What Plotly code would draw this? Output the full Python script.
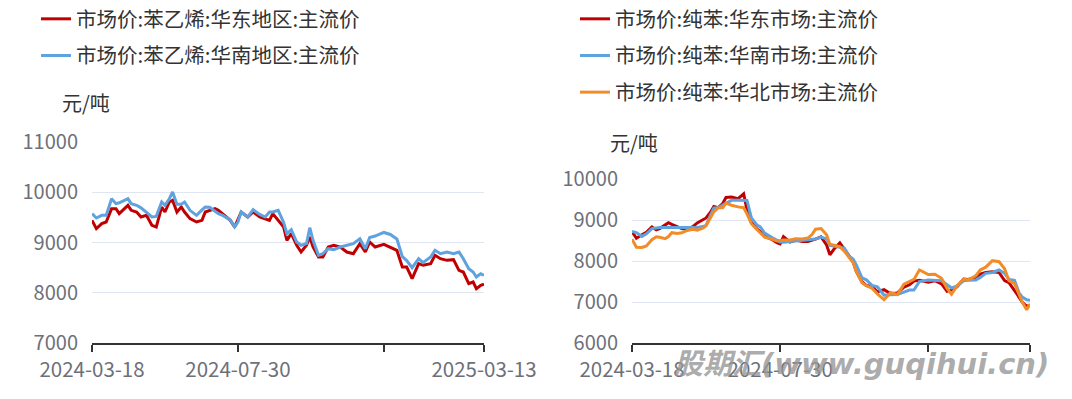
import plotly.graph_objects as go

# ---------------- Data ----------------
dates = [
    "2024-03-18", "2024-03-22", "2024-03-27", "2024-03-31", "2024-04-05", "2024-04-09", "2024-04-12", "2024-04-17", "2024-04-20", "2024-04-23",
    "2024-04-28", "2024-05-02", "2024-05-07", "2024-05-12", "2024-05-16", "2024-05-21", "2024-05-24", "2024-05-28", "2024-05-31", "2024-06-04",
    "2024-06-08", "2024-06-11", "2024-06-16", "2024-06-22", "2024-06-27", "2024-06-30", "2024-07-04", "2024-07-09", "2024-07-12", "2024-07-16",
    "2024-07-23", "2024-07-27", "2024-07-30", "2024-08-02", "2024-08-08", "2024-08-13", "2024-08-19", "2024-08-24", "2024-08-28", "2024-08-31",
    "2024-09-05", "2024-09-10", "2024-09-13", "2024-09-17", "2024-09-22", "2024-09-26", "2024-10-01", "2024-10-04", "2024-10-07", "2024-10-12",
    "2024-10-16", "2024-10-21", "2024-10-26", "2024-11-01", "2024-11-07", "2024-11-13", "2024-11-19", "2024-11-24", "2024-11-28", "2024-12-03",
    "2024-12-11", "2024-12-17", "2024-12-23", "2024-12-28", "2025-01-01", "2025-01-06", "2025-01-12", "2025-01-16", "2025-01-23", "2025-01-27",
    "2025-02-01", "2025-02-07", "2025-02-13", "2025-02-18", "2025-02-22", "2025-02-27", "2025-03-03", "2025-03-06", "2025-03-10", "2025-03-13",
]

# 苯乙烯 (styrene)
styrene_east = [
    9441, 9275, 9375, 9408, 9673, 9673, 9574, 9673, 9740, 9640,
    9607, 9507, 9540, 9342, 9308, 9706, 9607, 9806, 9839, 9607,
    9706, 9607, 9474, 9408, 9441, 9607, 9640, 9673, 9640, 9574,
    9441, 9308, 9441, 9607, 9507, 9607, 9507, 9474, 9441, 9574,
    9441, 9308, 9043, 9176, 8944, 8811, 8944, 9110, 8910, 8712,
    8712, 8910, 8944, 8910, 8811, 8778, 8977, 8811, 9010, 8910,
    8963, 8910, 8844, 8512, 8512, 8280, 8579, 8546, 8579, 8745,
    8678, 8645, 8658, 8446, 8413, 8181, 8214, 8081, 8148, 8170,
]
styrene_south = [
    9574, 9488, 9540, 9540, 9872, 9773, 9790, 9840, 9872, 9773,
    9740, 9690, 9600, 9507, 9520, 9806, 9740, 9870, 10005, 9760,
    9760, 9806, 9640, 9540, 9650, 9706, 9700, 9620, 9574, 9540,
    9450, 9308, 9408, 9607, 9507, 9653, 9560, 9507, 9607, 9607,
    9640, 9400, 9176, 9255, 9010, 8944, 8980, 9295, 9043, 8745,
    8778, 8877, 8857, 8910, 8940, 8977, 9076, 8877, 9100, 9129,
    9200, 9160, 9070, 8720, 8640, 8500, 8678, 8600, 8712, 8844,
    8778, 8811, 8778, 8811, 8678, 8479, 8413, 8313, 8380, 8347,
]

# 纯苯 (benzene)
benzene_east = [
    8718, 8555, 8640, 8700, 8830, 8759, 8790, 8880, 8935, 8895,
    8830, 8790, 8780, 8838, 8930, 9000, 9050, 9190, 9330, 9300,
    9400, 9550, 9560, 9520, 9640, 9250, 8940, 8780, 8718, 8600,
    8520, 8450, 8420, 8596, 8460, 8510, 8474, 8474, 8505, 8535,
    8590, 8390, 8150, 8300, 8440, 8300, 8100, 7980, 7740, 7494,
    7400, 7380, 7250, 7300, 7200, 7220, 7365, 7420, 7510, 7530,
    7480, 7520, 7440, 7260, 7290, 7370, 7560, 7550, 7590, 7680,
    7720, 7740, 7720, 7520, 7470, 7280, 7110, 7000, 6890, 6920,
]
benzene_south = [
    8718, 8694, 8600, 8661, 8790, 8808, 8816, 8816, 8816, 8816,
    8816, 8816, 8816, 8816, 8816, 8840, 8870, 9120, 9290, 9305,
    9370, 9420, 9480, 9480, 9478, 9478, 9050, 8880, 8830, 8680,
    8565, 8500, 8465, 8455, 8470, 8500, 8512, 8522, 8527, 8535,
    8585, 8540, 8380, 8355, 8335, 8315, 8100, 8050, 7900, 7590,
    7540, 7405, 7370, 7165, 7175, 7180, 7240, 7290, 7290, 7500,
    7535, 7533, 7520, 7420, 7340, 7390, 7518, 7528, 7535, 7600,
    7698, 7720, 7780, 7700, 7550, 7530, 7230, 7120, 7053, 7045,
]
benzene_north = [
    8531, 8335, 8330, 8367, 8520, 8590, 8580, 8545, 8596, 8690,
    8670, 8690, 8745, 8775, 8750, 8800, 8860, 9050, 9200, 9300,
    9300, 9410, 9360, 9320, 9300, 9150, 8910, 8770, 8694, 8580,
    8531, 8490, 8500, 8514, 8514, 8545, 8535, 8560, 8650, 8776,
    8790, 8640, 8410, 8377, 8350, 8240, 8070, 7960, 7740, 7469,
    7398, 7335, 7200, 7055, 7230, 7180, 7437, 7500, 7551, 7780,
    7670, 7675, 7580, 7330, 7192, 7395, 7560, 7540, 7640, 7780,
    7850, 8008, 7984, 7810, 7520, 7450, 7200, 7000, 6810, 6950,
]

left_names = ["市场价:苯乙烯:华东地区:主流价", "市场价:苯乙烯:华南地区:主流价"]
right_names = ["市场价:纯苯:华东市场:主流价", "市场价:纯苯:华南市场:主流价", "市场价:纯苯:华北市场:主流价"]

tick_dates = ["2024-03-18", "2024-07-30", "2024-12-11", "2025-03-13"]
tick_labels = ["2024-03-18", "2024-07-30", "", "2025-03-13"]
left_yticks = [7000, 8000, 9000, 10000, 11000]
right_yticks = [6000, 7000, 8000, 9000, 10000]

# ---------------- Style ----------------
RED = "#C00000"
BLUE = "#5FA2E0"
ORANGE = "#F28C28"
FONT = "Noto Sans CJK SC"
TICK_COLOR = "#6E7079"
TEXT_COLOR = "#333333"
GRID = "#E0E6F1"

fig = go.Figure()

left_series = [styrene_east, styrene_south]
left_colors = [RED, BLUE]
for i, (vals, col, name) in enumerate(zip(left_series, left_colors, left_names)):
    fig.add_trace(go.Scatter(
        x=dates, y=vals, mode="lines", name=name,
        line=dict(color=col, width=3), xaxis="x", yaxis="y",
        legend="legend", legendgroup=f"l{i}",
    ))

right_series = [benzene_east, benzene_south, benzene_north]
right_colors = [RED, BLUE, ORANGE]
for i, (vals, col, name) in enumerate(zip(right_series, right_colors, right_names)):
    fig.add_trace(go.Scatter(
        x=dates, y=vals, mode="lines", name=name,
        line=dict(color=col, width=3), xaxis="x2", yaxis="y2",
        legend="legend2", legendgroup=f"r{i}",
    ))

# page body adds an 8px offset; figure fills the rest of the 1072x399 window
OFF = 8
W, H = 1072 - OFF, 399 - OFF

def px(x):
    return (x - OFF) / W

def py(y):
    return 1 - (y - OFF) / H

def xaxis(domain, anchor):
    return dict(
        domain=domain, anchor=anchor, type="date", automargin=False,
        range=["2024-03-18", "2025-03-13"],
        tickmode="array", tickvals=tick_dates, ticktext=tick_labels,
        showgrid=False, zeroline=False,
        showline=True, linecolor="#333333", linewidth=1.5,
        ticks="outside", ticklen=7, tickcolor="#333333", tickwidth=1.5,
        tickfont=dict(family=FONT, size=20.5, color=TICK_COLOR),
        ticklabelstandoff=1,
    )

def yaxis(domain, anchor, rng, tv):
    return dict(
        domain=domain, anchor=anchor, range=rng, automargin=False,
        tickmode="array", tickvals=tv, ticktext=[str(v) for v in tv],
        showgrid=True, gridcolor=GRID, gridwidth=1,
        zeroline=False, showline=False, ticks="",
        tickfont=dict(family=FONT, size=20, color=TICK_COLOR),
        ticklabelstandoff=13,
    )

fig.update_layout(
    width=W, height=H,
    margin=dict(l=0, r=0, t=0, b=0, pad=0, autoexpand=False),
    paper_bgcolor="white", plot_bgcolor="white",
    font=dict(family=FONT, color=TEXT_COLOR),
    xaxis=xaxis([px(92), px(484)], "y"),
    yaxis=yaxis([py(343), py(142)], "x", [7000, 11000], left_yticks),
    xaxis2=xaxis([px(632), px(1030)], "y2"),
    yaxis2=yaxis([py(343), py(179)], "x2", [6000, 10000], right_yticks),
    legend=dict(
        x=px(36), y=py(-1), xanchor="left", yanchor="top",
        font=dict(family=FONT, size=20.5, color=TEXT_COLOR),
        bgcolor="rgba(0,0,0,0)", tracegroupgap=7, itemwidth=30,
    ),
    legend2=dict(
        x=px(575), y=py(-1), xanchor="left", yanchor="top",
        font=dict(family=FONT, size=20.5, color=TEXT_COLOR),
        bgcolor="rgba(0,0,0,0)", tracegroupgap=7, itemwidth=30,
    ),
    showlegend=True,
    annotations=[
        dict(text="元/吨", x=px(60), y=py(103), xref="paper", yref="paper",
             xanchor="left", yanchor="middle", showarrow=False,
             font=dict(family=FONT, size=20, color=TEXT_COLOR)),
        dict(text="元/吨", x=px(608), y=py(142), xref="paper", yref="paper",
             xanchor="left", yanchor="middle", showarrow=False,
             font=dict(family=FONT, size=20, color=TEXT_COLOR)),
        dict(text="股期汇(www.guqihui.cn)", x=px(861), y=py(364), xref="paper", yref="paper",
             xanchor="center", yanchor="middle", showarrow=False,
             font=dict(family="DejaVu Sans, Noto Sans CJK SC", size=29,
                       color="rgba(150,150,150,0.8)", weight="bold", style="italic")),
    ],
)

fig.write_html("out.html")
